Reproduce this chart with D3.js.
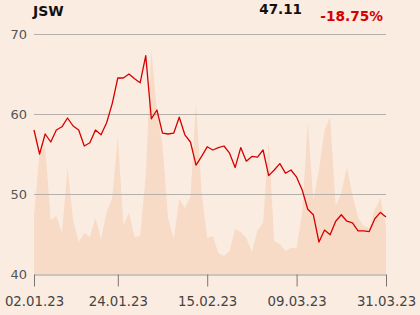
<!DOCTYPE html>
<html><head><meta charset="utf-8">
<script src="https://cdn.jsdelivr.net/npm/d3@7"></script>
<style>
html,body{margin:0;padding:0;background:#fbece1;}
svg{display:block;font-family:"DejaVu Sans",sans-serif;}
</style></head>
<body><div id="chart"></div>
<script>
const dates = ["02.01.23","03.01.23","04.01.23","05.01.23","09.01.23","10.01.23","11.01.23","12.01.23","13.01.23","16.01.23","17.01.23","18.01.23","19.01.23","20.01.23","23.01.23","24.01.23","25.01.23","26.01.23","27.01.23","30.01.23","31.01.23",
"01.02.23","02.02.23","03.02.23","06.02.23","07.02.23","08.02.23","09.02.23","10.02.23","13.02.23","14.02.23","15.02.23","16.02.23","17.02.23","20.02.23","21.02.23","22.02.23","23.02.23","24.02.23","27.02.23","28.02.23",
"01.03.23","02.03.23","03.03.23","06.03.23","07.03.23","08.03.23","09.03.23","10.03.23","13.03.23","14.03.23","15.03.23","16.03.23","17.03.23","20.03.23","21.03.23","22.03.23","23.03.23","24.03.23","27.03.23","28.03.23","29.03.23","30.03.23","31.03.23"];
const prices = [58.0,55.0,57.5,56.5,58.0,58.4,59.5,58.5,58.0,56.0,56.4,58.0,57.4,58.9,61.3,64.5,64.5,65.0,64.4,63.9,67.3,
59.4,60.5,57.6,57.5,57.6,59.6,57.4,56.5,53.6,54.7,55.9,55.5,55.8,56.0,55.1,53.3,55.8,54.1,54.7,54.6,
55.5,52.3,53.0,53.8,52.6,53.0,52.1,50.5,48.1,47.4,44.0,45.5,44.9,46.6,47.4,46.6,46.4,45.4,45.4,45.3,46.9,47.7,47.11];
const volumes = [590,1220,1270,540,580,410,1060,540,320,410,370,560,350,620,760,1380,490,610,370,380,990,
2240,1620,1290,560,350,750,660,770,1710,820,360,380,210,180,230,450,420,360,220,440,
510,1330,330,300,230,260,260,620,1520,740,1040,1440,1570,680,810,1070,790,560,480,460,640,760,480];
const yTicks = [40,50,60,70];
const xTickLabels = ["02.01.23","24.01.23","15.02.23","09.03.23","31.03.23"];
const title = "JSW", lastPrice = "47.11", change = "-18.75%";

const W = 420, H = 315;
const mLeft = 34, mRight = 386, mTop = 34, mBottom = 274;
const svg = d3.select("#chart").append("svg").attr("width", W).attr("height", H);
svg.append("rect").attr("width", W).attr("height", H).attr("fill", "#fbece1");

const x = d3.scalePoint().domain(dates).range([mLeft, mRight]);
const y = d3.scaleLinear().domain([40, 70]).range([mBottom, mTop]);
const yv = d3.scaleLinear().domain([0, 2400]).range([mBottom, mTop]);

// volume area
const area = d3.area().x((d, i) => x(dates[i])).y0(mBottom).y1(d => yv(d));
svg.append("path").datum(volumes).attr("d", area).attr("fill", "#f7dbc6");

// gridlines
svg.append("g").selectAll("line").data(yTicks.filter(t => t > 40)).join("line")
  .attr("x1", mLeft).attr("x2", mRight).attr("y1", d => y(d) + 0.5).attr("y2", d => y(d) + 0.5)
  .attr("stroke", "#b6b0aa").attr("stroke-width", 1);

// y labels
svg.append("g").selectAll("text").data(yTicks).join("text")
  .attr("x", 27).attr("y", d => y(d)).attr("dy", "0.36em").attr("text-anchor", "end")
  .attr("font-size", 13).attr("fill", "#555").text(d => d);

// x axis
const xAxis = d3.axisBottom(x).tickValues(xTickLabels).tickSize(12).tickPadding(10).tickSizeOuter(0);
const gx = svg.append("g").attr("transform", `translate(0,${mBottom + 0.5})`).call(xAxis);
gx.select(".domain").attr("stroke", "#9e9994");
gx.selectAll(".tick line").attr("stroke", "#7a7571");
gx.selectAll(".tick text").attr("font-size", 13.3).attr("fill", "#444").attr("font-family", "DejaVu Sans, sans-serif");

// price line
const line = d3.line().x((d, i) => x(dates[i])).y(d => y(d));
svg.append("path").datum(prices).attr("d", line).attr("fill", "none")
  .attr("stroke", "#d50000").attr("stroke-width", 1.3).attr("stroke-linejoin", "round");

// header
svg.append("text").attr("x", 33).attr("y", 16).attr("font-size", 14).attr("font-weight", "bold").attr("fill", "#111").text(title);
svg.append("text").attr("x", 302).attr("y", 14).attr("text-anchor", "end").attr("font-size", 13.5).attr("font-weight", "bold").attr("fill", "#111").text(lastPrice);
svg.append("text").attr("x", 383).attr("y", 21).attr("text-anchor", "end").attr("font-size", 13.7).attr("font-weight", "bold").attr("fill", "#d50000").text(change);
</script></body></html>
